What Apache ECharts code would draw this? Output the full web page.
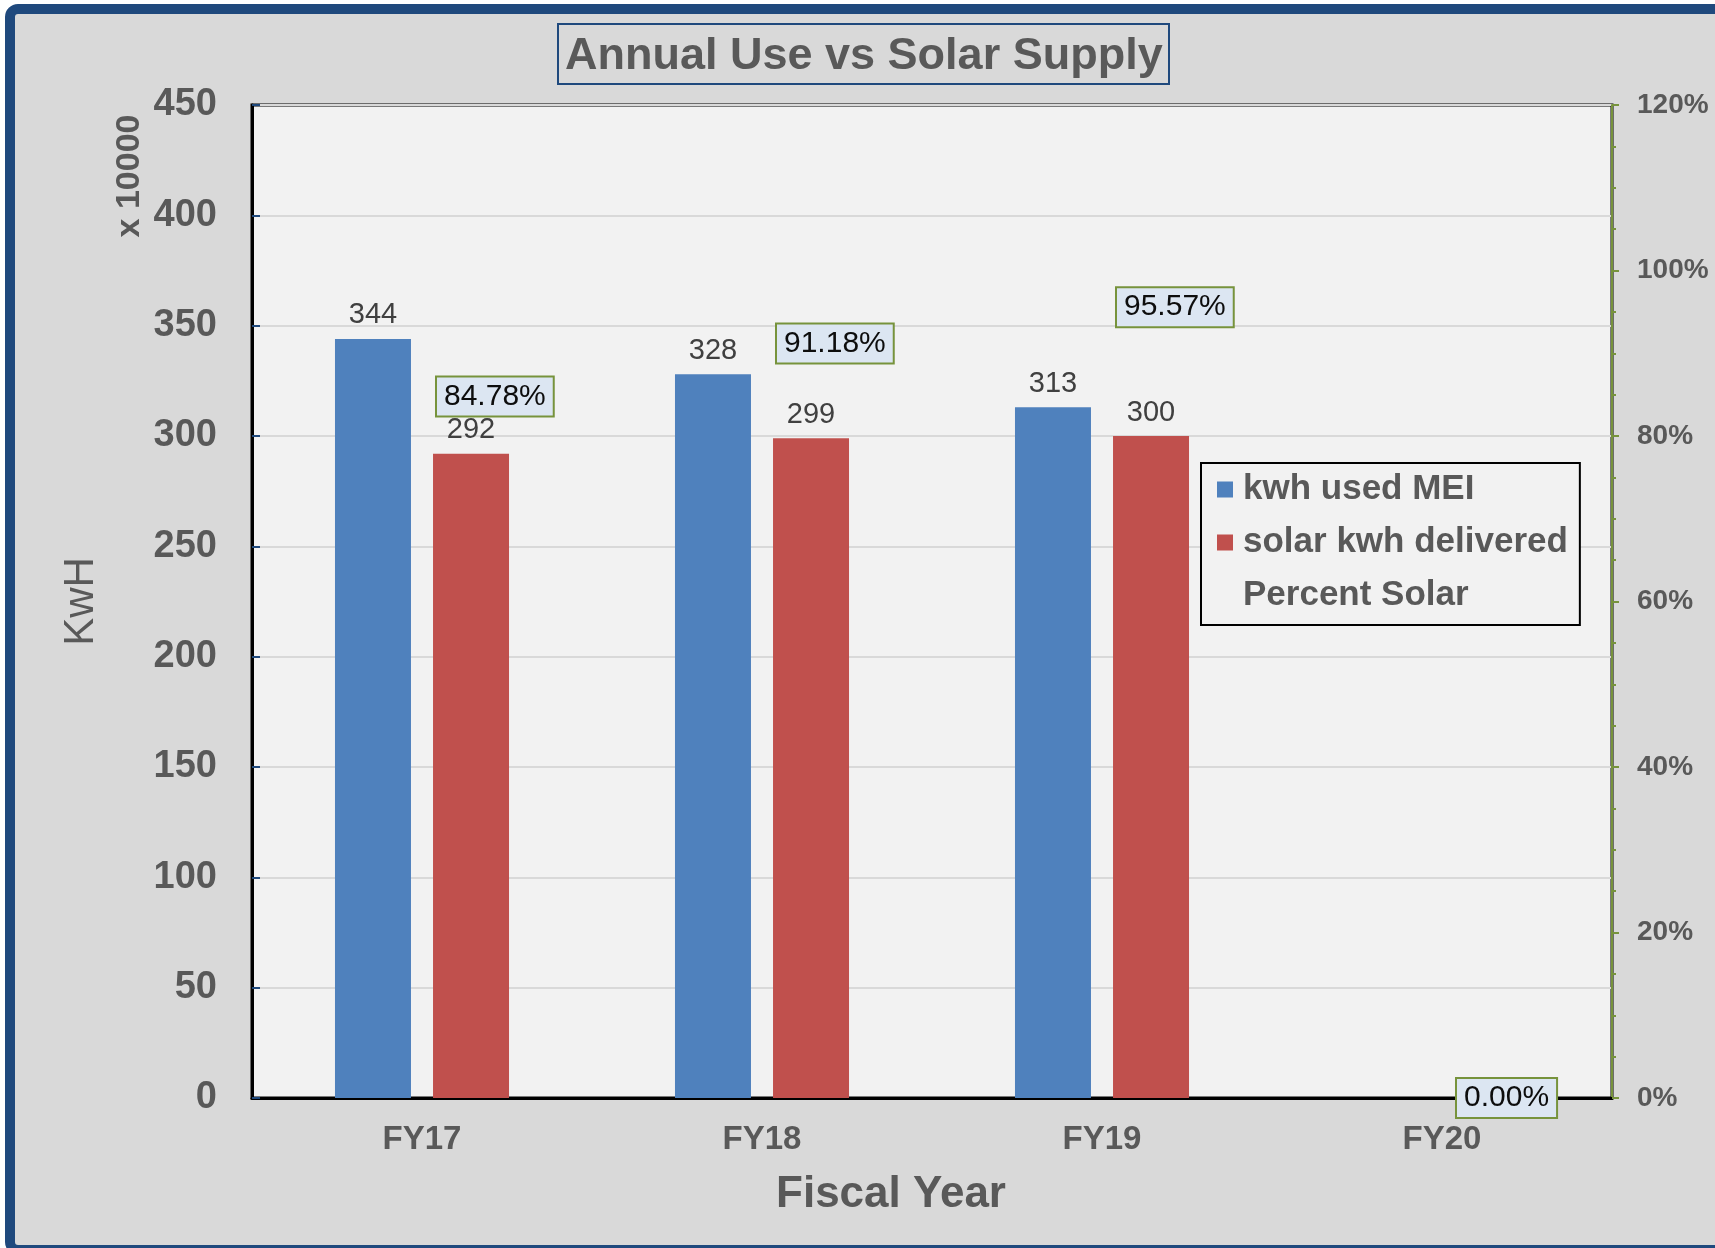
<!DOCTYPE html>
<html>
<head>
<meta charset="utf-8">
<style>
html,body{margin:0;padding:0;background:#fff;}
#chart{width:1715px;height:1248px;}
</style>
<script src="https://cdn.jsdelivr.net/npm/echarts@6/dist/echarts.min.js"></script>
</head>
<body>
<div id="chart"></div>
<script>
const categories = ['FY17', 'FY18', 'FY19', 'FY20'];
const kwhUsed = [344, 328, 313, null];
const solarDelivered = [292, 299, 300, null];
const percentSolar = [0.8478, 0.9118, 0.9557, 0.0];

const FONT = "'Liberation Sans', Arial, sans-serif";
const GRAY = '#595959';

const chart = echarts.init(document.getElementById('chart'));
chart.setOption({
  backgroundColor: '#ffffff',
  animation: false,
  textStyle: { fontFamily: FONT },
  graphic: [
    {
      type: 'rect', z: -100, silent: true,
      shape: { x: 10, y: 9, width: 1740, height: 1241, r: 8 },
      style: { fill: '#D9D9D9', stroke: '#1F497D', lineWidth: 10 }
    },
    {
      type: 'text', z: 10,
      x: 130, y: 176, rotation: Math.PI / 2,
      style: {
        text: 'x 10000', fill: GRAY, font: "bold 34px 'Liberation Sans', Arial, sans-serif",
        align: 'center', verticalAlign: 'middle'
      }
    }
  ],
  title: {
    text: 'Annual Use vs Solar Supply',
    left: 558, top: 24,
    padding: [7, 7, 1, 7],
    borderColor: '#1F497D', borderWidth: 2,
    backgroundColor: '#D9D9D9',
    textStyle: { fontFamily: FONT, fontSize: 45, fontWeight: 'bold', color: GRAY, lineHeight: 52 }
  },
  legend: {
    orient: 'vertical',
    left: 1201, top: 463,
    padding: [9, 12, 12, 16],
    itemGap: 18,
    itemWidth: 16, itemHeight: 16,
    backgroundColor: '#F2F2F2',
    borderColor: '#000', borderWidth: 2,
    textStyle: { fontFamily: FONT, fontSize: 35, fontWeight: 'bold', color: GRAY, padding: [0, 0, 0, 5] },
    data: [
      { name: 'kwh used MEI', icon: 'rect' },
      { name: 'solar kwh delivered', icon: 'rect' },
      { name: 'Percent Solar', icon: 'rect', itemStyle: { color: 'rgba(0,0,0,0)', borderWidth: 0 } }
    ]
  },
  grid: {
    left: 252, right: 103, top: 105, bottom: 150,
    show: true, backgroundColor: '#F2F2F2', borderColor: '#000', borderWidth: 3
  },
  xAxis: {
    type: 'category',
    data: categories,
    name: 'Fiscal Year',
    nameLocation: 'middle',
    nameGap: 75,
    nameTextStyle: { fontFamily: FONT, fontSize: 44, fontWeight: 'bold', color: GRAY, padding: [0, 82, 0, 0] },
    axisLine: { show: true, lineStyle: { color: '#000', width: 3 } },
    axisTick: { show: false },
    axisLabel: { fontFamily: FONT, fontSize: 33, fontWeight: 'bold', color: GRAY, margin: 25 }
  },
  yAxis: [
    {
      type: 'value', min: 0, max: 450, interval: 50,
      name: 'KwH', nameLocation: 'middle', nameGap: 150,
      nameTextStyle: { fontFamily: FONT, fontSize: 42, color: GRAY },
      axisLine: { show: true, lineStyle: { color: '#000', width: 3 } },
      axisTick: { show: true, inside: true, length: 8, lineStyle: { color: '#1F497D', width: 2 } },
      axisLabel: { fontFamily: FONT, fontSize: 38, fontWeight: 'bold', color: GRAY, margin: 35, padding: [8, 0, 0, 0] },
      splitLine: { show: true, lineStyle: { color: '#D9D9D9', width: 2 } }
    },
    {
      type: 'value', min: 0, max: 1.2, interval: 0.2, position: 'right',
      axisLine: { show: true, lineStyle: { color: '#77933C', width: 2 } },
      axisTick: { show: true, length: 7, lineStyle: { color: '#77933C', width: 2 } },
      minorTick: { show: true, splitNumber: 4, length: 4, lineStyle: { color: '#77933C', width: 2 } },
      axisLabel: {
        fontFamily: FONT, fontSize: 28, fontWeight: 'bold', color: GRAY, margin: 25, padding: [8, 0, 0, 0],
        formatter: v => Math.round(v * 100) + '%'
      },
      splitLine: { show: false }
    }
  ],
  series: [
    {
      name: 'kwh used MEI', type: 'bar', data: kwhUsed,
      barWidth: 76, barGap: '29%',
      itemStyle: { color: '#4F81BD' },
      label: { show: true, position: 'top', distance: 9, fontFamily: FONT, fontSize: 29, color: '#404040' }
    },
    {
      name: 'solar kwh delivered', type: 'bar', data: solarDelivered,
      barWidth: 76,
      itemStyle: { color: '#C0504D' },
      label: { show: true, position: 'top', distance: 9, fontFamily: FONT, fontSize: 29, color: '#404040' }
    },
    {
      name: 'Percent Solar', type: 'line', yAxisIndex: 1, data: percentSolar,
      z: 5,
      symbol: 'circle', symbolSize: 2,
      itemStyle: { color: 'rgba(0,0,0,0)' },
      lineStyle: { width: 0, color: 'rgba(0,0,0,0)' },
      label: {
        show: true, position: 'right', distance: 14,
        fontFamily: FONT, fontSize: 30, color: '#0D0D0D',
        backgroundColor: '#DCE6F2', borderColor: '#77933C', borderWidth: 2,
        padding: [4, 7, 4, 7],
        formatter: p => (p.value * 100).toFixed(2) + '%'
      }
    }
  ]
});
</script>
</body>
</html>
